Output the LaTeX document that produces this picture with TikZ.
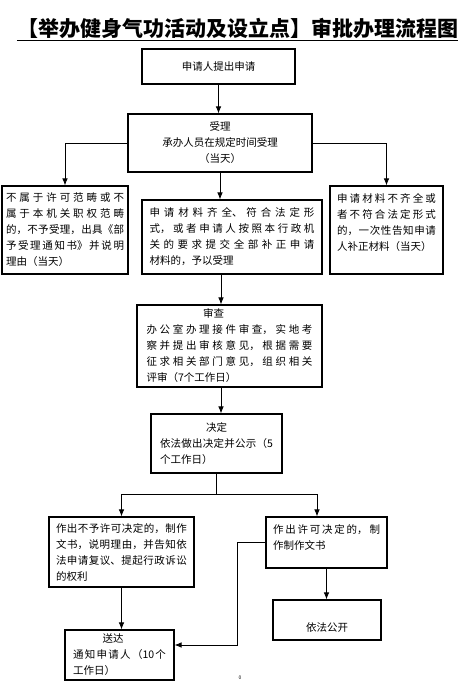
\documentclass[tikz,border=0pt]{standalone}
\usepackage{fontspec}
\setmainfont{Noto Sans CJK SC}
\usepackage{tikz}
\usetikzlibrary{arrows.meta,positioning,calc}
\XeTeXlinebreaklocale "zh"
\XeTeXlinebreakskip=0pt plus 4pt

\begin{document}
\begin{tikzpicture}[
    x=1pt, y=-1pt,
    every node/.style={font=\fontsize{10.5pt}{16pt}\selectfont},
    box/.style={draw, line width=1.1pt, inner sep=0pt, align=justify},
    arr/.style={-{Latex[length=7pt,width=5.5pt]}, line width=0.8pt},
    wire/.style={line width=0.8pt}
  ]
  \useasboundingbox (0,0) rectangle (467,682);

  \node[font=\fontsize{21pt}{24pt}\selectfont\bfseries, inner sep=0pt, anchor=base] (title) at (237.5,37) {【举办健身气功活动及设立点】审批办理流程图};
  \draw[line width=1.4pt] ([yshift=-3.5pt]title.base west) -- ([yshift=-3.5pt]title.base east);

  \node[box, align=center, minimum width=153pt, minimum height=35pt] (apply) at (218.5,66.5) {申请人提出申请};
  \node[box, align=center, minimum width=184pt, minimum height=58pt] (accept) at (220,143) {受理\\承办人员在规定时间受理\\（当天）};

  \node[box, minimum width=126pt, minimum height=88pt, text width=118pt] (reject) at (65,230) {不属于许可范畴或不\linebreak
    属于本机关职权范畴\linebreak
    的，不予受理，出具《部\linebreak
    予受理通知书》并说明\linebreak
    理由（当天）};
  \node[box, minimum width=180pt, minimum height=74pt, text width=165pt] (admit) at (232,237) {申请材料齐全、符合法定形\linebreak
    式，或者申请人按照本行政机\linebreak
    关的要求提交全部补正申请\linebreak
    材料的，予以受理};
  \node[box, minimum width=113pt, minimum height=88pt, text width=99pt, text depth=63pt] (supplement) at (386.5,230) {申请材料不齐全或\linebreak
    者不符合法定形式\linebreak
    的，一次性告知申请\linebreak
    人补正材料（当天）};

  \node[box, minimum width=185pt, minimum height=82pt, text width=166pt] (review) at (229.5,346) {{\centering 审查\hspace*{32pt}\par}办公室办理接件审查，实地考\linebreak
    察并提出审核意见，根据需要\linebreak
    征求相关部门意见，组织相关\linebreak
    评审（7个工作日）};
  \node[box, minimum width=131pt, minimum height=59pt, text width=113pt] (decide) at (216.5,443.5) {{\centering 决定\par}依法做出决定并公示（5\linebreak
    个工作日）};

  \node[box, minimum width=145pt, minimum height=70pt, text width=131pt] (deny) at (121.5,552) {作出不予许可决定的，制作\linebreak
    文书，说明理由，并告知依\linebreak
    法申请复议、提起行政诉讼\linebreak
    的权利};
  \node[box, minimum width=121pt, minimum height=51pt, text width=107pt, text depth=27pt] (grant) at (326.5,542.5) {作出许可决定的，制\linebreak
    作制作文书};
  \node[box, align=center, minimum width=108pt, minimum height=40pt, text height=23pt, text depth=1pt] (publish) at (327,620) {依法公开};
  \node[box, minimum width=109pt, minimum height=50pt, text width=93pt] (deliver) at (119.5,655) {{\centering 送达\hspace*{13pt}\par}通知申请人（10个\linebreak
    工作日）};

  \node[font=\fontsize{5pt}{5pt}\selectfont, inner sep=0pt] (pageno) at (240,678) {0};

  \draw[arr] (apply.south) -- (apply.south |- accept.north);
  \draw[arr] (accept.west) -| (reject.north);
  \draw[arr] (accept.east) -| (supplement.north);
  \draw[arr] (accept.south) -- (accept.south |- admit.north);
  \draw[arr] ([xshift=-11pt]admit.south) -- ([xshift=-11pt]admit.south |- review.north);
  \draw[arr] ([xshift=-8.5pt]review.south) -- ([xshift=-8.5pt]review.south |- decide.north);
  \path (decide.south) ++(0,21) coordinate (fork);
  \draw[wire] (decide.south) -- (fork);
  \draw[arr] (fork) -| (deny.north);
  \draw[arr] (fork) -| ([xshift=-9.5pt]grant.north);
  \draw[arr] (grant.south) -- (grant.south |- publish.north);
  \draw[arr] (deny.south) -- (deny.south |- deliver.north);
  \coordinate (bend) at (237,645);
  \draw[arr] (grant.west) -| (bend) -- (bend -| deliver.east);
\end{tikzpicture}
\end{document}
